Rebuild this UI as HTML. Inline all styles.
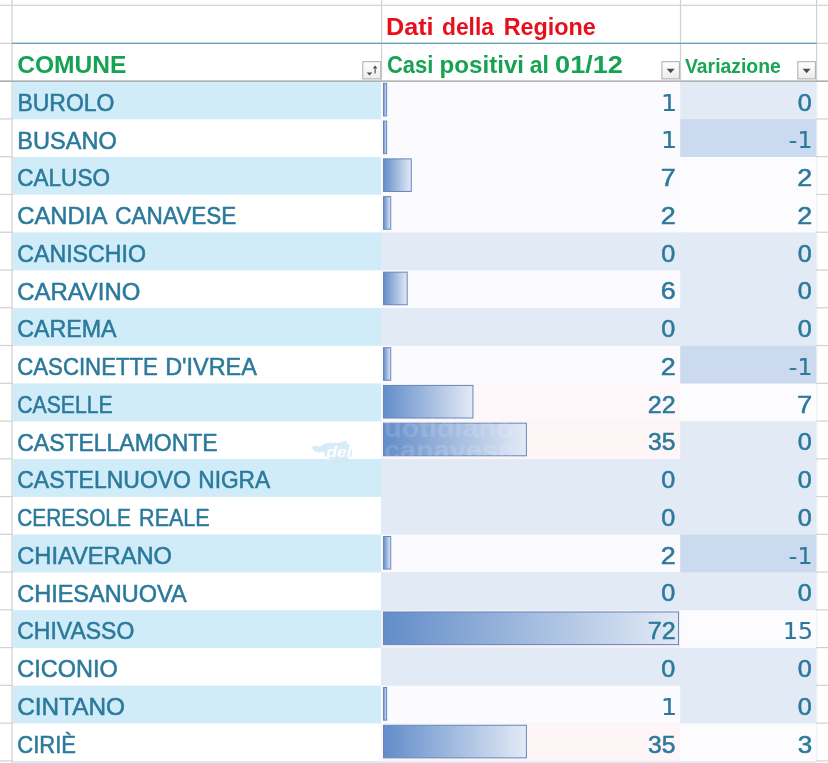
<!DOCTYPE html>
<html lang="it"><head><meta charset="utf-8"><title>Dati della Regione</title>
<style>html,body{margin:0;padding:0;background:#fff;}body{width:828px;height:763px;overflow:hidden;}svg{display:block;}</style>
</head><body>
<svg width="828" height="763" viewBox="0 0 828 763" font-family="'Liberation Sans', sans-serif">
<defs>
<linearGradient id="bar" x1="0" y1="0" x2="1" y2="0"><stop offset="0" stop-color="#628dc9"/><stop offset="1" stop-color="#e3eaf6"/></linearGradient>
<linearGradient id="btn" x1="0" y1="0" x2="0" y2="1"><stop offset="0" stop-color="#ffffff"/><stop offset="1" stop-color="#ececec"/></linearGradient>
</defs>
<rect width="828" height="763" fill="#ffffff"/>
<rect x="11.40" y="0" width="1.2" height="763" fill="#d1d1d1"/>
<rect x="381.00" y="0" width="1.2" height="763" fill="#d1d1d1"/>
<rect x="679.90" y="0" width="1.2" height="763" fill="#d1d1d1"/>
<rect x="816.00" y="0" width="1.2" height="81" fill="#d1d1d1"/>
<rect x="816.2" y="81" width="1.2" height="682" fill="#ededed"/>
<rect x="0" y="4.7" width="828" height="1.2" fill="#d1d1d1"/>
<rect x="0" y="42.7" width="828" height="1.2" fill="#d1d1d1"/>
<rect x="0" y="80.60" width="828" height="1.2" fill="#d1d1d1"/>
<rect x="0" y="118.36" width="828" height="1.2" fill="#d1d1d1"/>
<rect x="0" y="156.12" width="828" height="1.2" fill="#d1d1d1"/>
<rect x="0" y="193.88" width="828" height="1.2" fill="#d1d1d1"/>
<rect x="0" y="231.64" width="828" height="1.2" fill="#d1d1d1"/>
<rect x="0" y="269.40" width="828" height="1.2" fill="#d1d1d1"/>
<rect x="0" y="307.16" width="828" height="1.2" fill="#d1d1d1"/>
<rect x="0" y="344.92" width="828" height="1.2" fill="#d1d1d1"/>
<rect x="0" y="382.68" width="828" height="1.2" fill="#d1d1d1"/>
<rect x="0" y="420.44" width="828" height="1.2" fill="#d1d1d1"/>
<rect x="0" y="458.20" width="828" height="1.2" fill="#d1d1d1"/>
<rect x="0" y="495.96" width="828" height="1.2" fill="#d1d1d1"/>
<rect x="0" y="533.72" width="828" height="1.2" fill="#d1d1d1"/>
<rect x="0" y="571.48" width="828" height="1.2" fill="#d1d1d1"/>
<rect x="0" y="609.24" width="828" height="1.2" fill="#d1d1d1"/>
<rect x="0" y="647.00" width="828" height="1.2" fill="#d1d1d1"/>
<rect x="0" y="684.76" width="828" height="1.2" fill="#d1d1d1"/>
<rect x="0" y="722.52" width="828" height="1.2" fill="#d1d1d1"/>
<rect x="0" y="760.28" width="828" height="1.2" fill="#d1d1d1"/>
<rect x="12" y="42.7" width="804.6" height="1.3" fill="#62a8bd"/>
<rect x="0" y="80.50" width="828" height="1.4" fill="#a9a9a9"/>
<rect x="13" y="81.90" width="368.00" height="37.66" fill="#d0ecf9"/>
<rect x="381" y="81.90" width="300.00" height="37.66" fill="#fbfbff"/>
<rect x="680.2" y="81.90" width="136.00" height="37.66" fill="#e2eaf6"/>
<rect x="13" y="119.26" width="368.00" height="38.06" fill="#ffffff"/>
<rect x="381" y="119.26" width="300.00" height="38.06" fill="#fbfbff"/>
<rect x="680.2" y="119.26" width="136.00" height="38.06" fill="#cbdaee"/>
<rect x="13" y="157.02" width="368.00" height="38.06" fill="#d0ecf9"/>
<rect x="381" y="157.02" width="300.00" height="38.06" fill="#fbfbff"/>
<rect x="680.2" y="157.02" width="136.00" height="38.06" fill="#fcfcff"/>
<rect x="13" y="194.78" width="368.00" height="38.06" fill="#ffffff"/>
<rect x="381" y="194.78" width="300.00" height="38.06" fill="#fbfbff"/>
<rect x="680.2" y="194.78" width="136.00" height="38.06" fill="#fcfcff"/>
<rect x="13" y="232.54" width="368.00" height="38.06" fill="#d0ecf9"/>
<rect x="381" y="232.54" width="300.00" height="38.06" fill="#e2eaf6"/>
<rect x="680.2" y="232.54" width="136.00" height="38.06" fill="#e2eaf6"/>
<rect x="13" y="270.30" width="368.00" height="38.06" fill="#ffffff"/>
<rect x="381" y="270.30" width="300.00" height="38.06" fill="#fbfbff"/>
<rect x="680.2" y="270.30" width="136.00" height="38.06" fill="#e2eaf6"/>
<rect x="13" y="308.06" width="368.00" height="38.06" fill="#d0ecf9"/>
<rect x="381" y="308.06" width="300.00" height="38.06" fill="#e2eaf6"/>
<rect x="680.2" y="308.06" width="136.00" height="38.06" fill="#e2eaf6"/>
<rect x="13" y="345.82" width="368.00" height="38.06" fill="#ffffff"/>
<rect x="381" y="345.82" width="300.00" height="38.06" fill="#fbfbff"/>
<rect x="680.2" y="345.82" width="136.00" height="38.06" fill="#cbdaee"/>
<rect x="13" y="383.58" width="368.00" height="38.06" fill="#d0ecf9"/>
<rect x="381" y="383.58" width="300.00" height="38.06" fill="#fdf7f9"/>
<rect x="680.2" y="383.58" width="136.00" height="38.06" fill="#fcfcff"/>
<rect x="13" y="421.34" width="368.00" height="38.06" fill="#ffffff"/>
<rect x="381" y="421.34" width="300.00" height="38.06" fill="#fdf5f6"/>
<rect x="680.2" y="421.34" width="136.00" height="38.06" fill="#e2eaf6"/>
<rect x="13" y="459.10" width="368.00" height="38.06" fill="#d0ecf9"/>
<rect x="381" y="459.10" width="300.00" height="38.06" fill="#e2eaf6"/>
<rect x="680.2" y="459.10" width="136.00" height="38.06" fill="#e2eaf6"/>
<rect x="13" y="496.86" width="368.00" height="38.06" fill="#ffffff"/>
<rect x="381" y="496.86" width="300.00" height="38.06" fill="#e2eaf6"/>
<rect x="680.2" y="496.86" width="136.00" height="38.06" fill="#e2eaf6"/>
<rect x="13" y="534.62" width="368.00" height="38.06" fill="#d0ecf9"/>
<rect x="381" y="534.62" width="300.00" height="38.06" fill="#fbfbff"/>
<rect x="680.2" y="534.62" width="136.00" height="38.06" fill="#cbdaee"/>
<rect x="13" y="572.38" width="368.00" height="38.06" fill="#ffffff"/>
<rect x="381" y="572.38" width="300.00" height="38.06" fill="#e2eaf6"/>
<rect x="680.2" y="572.38" width="136.00" height="38.06" fill="#e2eaf6"/>
<rect x="13" y="610.14" width="368.00" height="38.06" fill="#d0ecf9"/>
<rect x="381" y="610.14" width="300.00" height="38.06" fill="#f6eff4"/>
<rect x="680.2" y="610.14" width="136.00" height="38.06" fill="#fcfcff"/>
<rect x="13" y="647.90" width="368.00" height="38.06" fill="#ffffff"/>
<rect x="381" y="647.90" width="300.00" height="38.06" fill="#e2eaf6"/>
<rect x="680.2" y="647.90" width="136.00" height="38.06" fill="#e2eaf6"/>
<rect x="13" y="685.66" width="368.00" height="38.06" fill="#d0ecf9"/>
<rect x="381" y="685.66" width="300.00" height="38.06" fill="#fbfbff"/>
<rect x="680.2" y="685.66" width="136.00" height="38.06" fill="#e2eaf6"/>
<rect x="13" y="723.42" width="368.00" height="38.06" fill="#ffffff"/>
<rect x="381" y="723.42" width="300.00" height="38.06" fill="#fdf5f6"/>
<rect x="680.2" y="723.42" width="136.00" height="38.06" fill="#fcfcff"/>
<rect x="13" y="761.18" width="368.00" height="38.06" fill="#d0ecf9"/>
<rect x="381" y="761.18" width="300.00" height="38.06" fill="#e2eaf6"/>
<rect x="680.2" y="761.18" width="136.00" height="38.06" fill="#e2eaf6"/>
<rect x="383.50" y="83.35" width="3.11" height="32.60" fill="url(#bar)" stroke="#6586bf" stroke-width="1"/>
<rect x="383.50" y="121.11" width="3.11" height="32.60" fill="url(#bar)" stroke="#6586bf" stroke-width="1"/>
<rect x="383.50" y="158.87" width="27.78" height="32.60" fill="url(#bar)" stroke="#6586bf" stroke-width="1"/>
<rect x="383.50" y="196.63" width="7.22" height="32.60" fill="url(#bar)" stroke="#6586bf" stroke-width="1"/>
<rect x="383.50" y="272.15" width="23.67" height="32.60" fill="url(#bar)" stroke="#6586bf" stroke-width="1"/>
<rect x="383.50" y="347.67" width="7.22" height="32.60" fill="url(#bar)" stroke="#6586bf" stroke-width="1"/>
<rect x="383.50" y="385.43" width="89.44" height="32.60" fill="url(#bar)" stroke="#6586bf" stroke-width="1"/>
<rect x="383.50" y="423.19" width="142.89" height="32.60" fill="url(#bar)" stroke="#6586bf" stroke-width="1"/>
<rect x="383.50" y="536.47" width="7.22" height="32.60" fill="url(#bar)" stroke="#6586bf" stroke-width="1"/>
<rect x="383.50" y="611.99" width="295.00" height="32.60" fill="url(#bar)" stroke="#6586bf" stroke-width="1"/>
<rect x="383.50" y="687.51" width="3.11" height="32.60" fill="url(#bar)" stroke="#6586bf" stroke-width="1"/>
<rect x="383.50" y="725.27" width="142.89" height="32.60" fill="url(#bar)" stroke="#6586bf" stroke-width="1"/>
<g opacity="0.9"><path d="M311.5 447 L316 445.5 L320 446.5 L325 443.5 L331 442.5 L338 443 L343 441.5 L346 440.5 L347.5 443.5 L351 446 L352 451 L351.5 456.5 L348 457.5 L349 461 L346 464 L340 465 L333 464.5 L330 461 L329 457 L325 456 L324 452 L319 452.5 L314 451 Z" fill="#d3eaf6"/><text x="326.5" y="456.8" font-size="14" font-weight="bold" font-style="italic" fill="#ffffff" textLength="25" lengthAdjust="spacingAndGlyphs">del</text></g>
<g fill="#ffffff" opacity="0.13" font-weight="bold"><text x="384" y="437" font-size="25" textLength="130" lengthAdjust="spacingAndGlyphs">uotidiano</text><text x="384" y="458.5" font-size="25" textLength="130" lengthAdjust="spacingAndGlyphs">canavese</text></g>
<g><rect x="362.80" y="61.7" width="18.0" height="17.2" fill="url(#btn)" stroke="#ababab" stroke-width="1"/><path d="M366.7 72.4 L372.3 72.4 L369.5 75.5 Z" fill="#4d4d4d"/><path d="M375.1 73.4 L375.1 66.6 M373.5 68.4 L375.1 66.4 L376.7 68.4" stroke="#4d4d4d" stroke-width="1.1" fill="none"/></g>
<g><rect x="661.90" y="61.7" width="17.5" height="17.2" fill="url(#btn)" stroke="#ababab" stroke-width="1"/><path d="M666.65 68.7 L674.65 68.7 L670.65 73.3 Z" fill="#4d4d4d"/></g>
<g><rect x="797.80" y="61.7" width="17.6" height="17.2" fill="url(#btn)" stroke="#ababab" stroke-width="1"/><path d="M802.60 68.7 L810.60 68.7 L806.60 73.3 Z" fill="#4d4d4d"/></g>
<text x="17.40" y="110.80" font-size="24.3" font-weight="normal" fill="#2b7a9c" stroke="#2b7a9c" stroke-width="0.55" textLength="97.10" lengthAdjust="spacingAndGlyphs">BUROLO</text>
<text x="17.36" y="148.56" font-size="24.3" font-weight="normal" fill="#2b7a9c" stroke="#2b7a9c" stroke-width="0.55" textLength="99.36" lengthAdjust="spacingAndGlyphs">BUSANO</text>
<text x="17.24" y="186.32" font-size="24.3" font-weight="normal" fill="#2b7a9c" stroke="#2b7a9c" stroke-width="0.55" textLength="92.74" lengthAdjust="spacingAndGlyphs">CALUSO</text>
<g font-size="24.3" font-weight="normal" fill="#2b7a9c" stroke="#2b7a9c" stroke-width="0.55"><text x="17.18" y="224.08" textLength="90.20" lengthAdjust="spacingAndGlyphs">CANDIA</text><text x="115.34" y="224.08" textLength="121.00" lengthAdjust="spacingAndGlyphs">CANAVESE</text></g>
<text x="17.21" y="261.84" font-size="24.3" font-weight="normal" fill="#2b7a9c" stroke="#2b7a9c" stroke-width="0.55" textLength="128.79" lengthAdjust="spacingAndGlyphs">CANISCHIO</text>
<text x="17.18" y="299.60" font-size="24.3" font-weight="normal" fill="#2b7a9c" stroke="#2b7a9c" stroke-width="0.55" textLength="123.16" lengthAdjust="spacingAndGlyphs">CARAVINO</text>
<text x="17.21" y="337.36" font-size="24.3" font-weight="normal" fill="#2b7a9c" stroke="#2b7a9c" stroke-width="0.55" textLength="99.38" lengthAdjust="spacingAndGlyphs">CAREMA</text>
<g font-size="24.3" font-weight="normal" fill="#2b7a9c" stroke="#2b7a9c" stroke-width="0.55"><text x="17.26" y="375.12" textLength="140.67" lengthAdjust="spacingAndGlyphs">CASCINETTE</text><text x="165.17" y="375.12" textLength="91.72" lengthAdjust="spacingAndGlyphs">D'IVREA</text></g>
<text x="17.31" y="412.88" font-size="24.3" font-weight="normal" fill="#2b7a9c" stroke="#2b7a9c" stroke-width="0.55" textLength="95.28" lengthAdjust="spacingAndGlyphs">CASELLE</text>
<text x="17.22" y="450.64" font-size="24.3" font-weight="normal" fill="#2b7a9c" stroke="#2b7a9c" stroke-width="0.55" textLength="200.44" lengthAdjust="spacingAndGlyphs">CASTELLAMONTE</text>
<g font-size="24.3" font-weight="normal" fill="#2b7a9c" stroke="#2b7a9c" stroke-width="0.55"><text x="17.22" y="488.40" textLength="173.78" lengthAdjust="spacingAndGlyphs">CASTELNUOVO</text><text x="198.22" y="488.40" textLength="71.96" lengthAdjust="spacingAndGlyphs">NIGRA</text></g>
<g font-size="24.3" font-weight="normal" fill="#2b7a9c" stroke="#2b7a9c" stroke-width="0.55"><text x="17.32" y="526.16" textLength="113.55" lengthAdjust="spacingAndGlyphs">CERESOLE</text><text x="139.12" y="526.16" textLength="70.59" lengthAdjust="spacingAndGlyphs">REALE</text></g>
<text x="17.19" y="563.92" font-size="24.3" font-weight="normal" fill="#2b7a9c" stroke="#2b7a9c" stroke-width="0.55" textLength="154.84" lengthAdjust="spacingAndGlyphs">CHIAVERANO</text>
<text x="17.20" y="601.68" font-size="24.3" font-weight="normal" fill="#2b7a9c" stroke="#2b7a9c" stroke-width="0.55" textLength="169.39" lengthAdjust="spacingAndGlyphs">CHIESANUOVA</text>
<text x="17.22" y="639.44" font-size="24.3" font-weight="normal" fill="#2b7a9c" stroke="#2b7a9c" stroke-width="0.55" textLength="117.08" lengthAdjust="spacingAndGlyphs">CHIVASSO</text>
<text x="17.20" y="677.20" font-size="24.3" font-weight="normal" fill="#2b7a9c" stroke="#2b7a9c" stroke-width="0.55" textLength="100.52" lengthAdjust="spacingAndGlyphs">CICONIO</text>
<text x="17.16" y="714.96" font-size="24.3" font-weight="normal" fill="#2b7a9c" stroke="#2b7a9c" stroke-width="0.55" textLength="107.90" lengthAdjust="spacingAndGlyphs">CINTANO</text>
<text x="17.27" y="752.72" font-size="24.3" font-weight="normal" fill="#2b7a9c" stroke="#2b7a9c" stroke-width="0.55" textLength="58.65" lengthAdjust="spacingAndGlyphs">CIRIÈ</text>
<text x="660.93" y="110.60" font-size="22.7" font-weight="normal" fill="#2b7a9c" stroke="#2b7a9c" stroke-width="0.15" font-family="'DejaVu Sans', 'Liberation Sans', sans-serif" textLength="16.14" lengthAdjust="spacingAndGlyphs">1</text>
<text x="797.81" y="110.60" font-size="23.6" font-weight="normal" fill="#2b7a9c" stroke="#2b7a9c" stroke-width="0.55" textLength="14.02" lengthAdjust="spacingAndGlyphs">0</text>
<text x="660.93" y="148.36" font-size="22.7" font-weight="normal" fill="#2b7a9c" stroke="#2b7a9c" stroke-width="0.15" font-family="'DejaVu Sans', 'Liberation Sans', sans-serif" textLength="16.14" lengthAdjust="spacingAndGlyphs">1</text>
<text x="788.89" y="148.36" font-size="22.7" font-weight="normal" fill="#2b7a9c" stroke="#2b7a9c" stroke-width="0.15" font-family="'DejaVu Sans', 'Liberation Sans', sans-serif" textLength="23.51" lengthAdjust="spacingAndGlyphs">-1</text>
<text x="660.74" y="186.12" font-size="23.6" font-weight="normal" fill="#2b7a9c" stroke="#2b7a9c" stroke-width="0.55" textLength="14.95" lengthAdjust="spacingAndGlyphs">7</text>
<text x="797.34" y="186.12" font-size="23.6" font-weight="normal" fill="#2b7a9c" stroke="#2b7a9c" stroke-width="0.55" textLength="14.95" lengthAdjust="spacingAndGlyphs">2</text>
<text x="660.74" y="223.88" font-size="23.6" font-weight="normal" fill="#2b7a9c" stroke="#2b7a9c" stroke-width="0.55" textLength="14.95" lengthAdjust="spacingAndGlyphs">2</text>
<text x="797.34" y="223.88" font-size="23.6" font-weight="normal" fill="#2b7a9c" stroke="#2b7a9c" stroke-width="0.55" textLength="14.95" lengthAdjust="spacingAndGlyphs">2</text>
<text x="661.21" y="261.64" font-size="23.6" font-weight="normal" fill="#2b7a9c" stroke="#2b7a9c" stroke-width="0.55" textLength="14.02" lengthAdjust="spacingAndGlyphs">0</text>
<text x="797.81" y="261.64" font-size="23.6" font-weight="normal" fill="#2b7a9c" stroke="#2b7a9c" stroke-width="0.55" textLength="14.02" lengthAdjust="spacingAndGlyphs">0</text>
<text x="660.74" y="299.40" font-size="23.6" font-weight="normal" fill="#2b7a9c" stroke="#2b7a9c" stroke-width="0.55" textLength="14.95" lengthAdjust="spacingAndGlyphs">6</text>
<text x="797.81" y="299.40" font-size="23.6" font-weight="normal" fill="#2b7a9c" stroke="#2b7a9c" stroke-width="0.55" textLength="14.02" lengthAdjust="spacingAndGlyphs">0</text>
<text x="661.21" y="337.16" font-size="23.6" font-weight="normal" fill="#2b7a9c" stroke="#2b7a9c" stroke-width="0.55" textLength="14.02" lengthAdjust="spacingAndGlyphs">0</text>
<text x="797.81" y="337.16" font-size="23.6" font-weight="normal" fill="#2b7a9c" stroke="#2b7a9c" stroke-width="0.55" textLength="14.02" lengthAdjust="spacingAndGlyphs">0</text>
<text x="660.74" y="374.92" font-size="23.6" font-weight="normal" fill="#2b7a9c" stroke="#2b7a9c" stroke-width="0.55" textLength="14.95" lengthAdjust="spacingAndGlyphs">2</text>
<text x="788.89" y="374.92" font-size="22.7" font-weight="normal" fill="#2b7a9c" stroke="#2b7a9c" stroke-width="0.15" font-family="'DejaVu Sans', 'Liberation Sans', sans-serif" textLength="23.51" lengthAdjust="spacingAndGlyphs">-1</text>
<text x="647.72" y="412.68" font-size="23.6" font-weight="normal" fill="#2b7a9c" stroke="#2b7a9c" stroke-width="0.55" textLength="27.89" lengthAdjust="spacingAndGlyphs">22</text>
<text x="797.34" y="412.68" font-size="23.6" font-weight="normal" fill="#2b7a9c" stroke="#2b7a9c" stroke-width="0.55" textLength="14.95" lengthAdjust="spacingAndGlyphs">7</text>
<text x="648.13" y="450.44" font-size="23.6" font-weight="normal" fill="#2b7a9c" stroke="#2b7a9c" stroke-width="0.55" textLength="27.47" lengthAdjust="spacingAndGlyphs">35</text>
<text x="797.81" y="450.44" font-size="23.6" font-weight="normal" fill="#2b7a9c" stroke="#2b7a9c" stroke-width="0.55" textLength="14.02" lengthAdjust="spacingAndGlyphs">0</text>
<text x="661.21" y="488.20" font-size="23.6" font-weight="normal" fill="#2b7a9c" stroke="#2b7a9c" stroke-width="0.55" textLength="14.02" lengthAdjust="spacingAndGlyphs">0</text>
<text x="797.81" y="488.20" font-size="23.6" font-weight="normal" fill="#2b7a9c" stroke="#2b7a9c" stroke-width="0.55" textLength="14.02" lengthAdjust="spacingAndGlyphs">0</text>
<text x="661.21" y="525.96" font-size="23.6" font-weight="normal" fill="#2b7a9c" stroke="#2b7a9c" stroke-width="0.55" textLength="14.02" lengthAdjust="spacingAndGlyphs">0</text>
<text x="797.81" y="525.96" font-size="23.6" font-weight="normal" fill="#2b7a9c" stroke="#2b7a9c" stroke-width="0.55" textLength="14.02" lengthAdjust="spacingAndGlyphs">0</text>
<text x="660.74" y="563.72" font-size="23.6" font-weight="normal" fill="#2b7a9c" stroke="#2b7a9c" stroke-width="0.55" textLength="14.95" lengthAdjust="spacingAndGlyphs">2</text>
<text x="788.89" y="563.72" font-size="22.7" font-weight="normal" fill="#2b7a9c" stroke="#2b7a9c" stroke-width="0.15" font-family="'DejaVu Sans', 'Liberation Sans', sans-serif" textLength="23.51" lengthAdjust="spacingAndGlyphs">-1</text>
<text x="661.21" y="601.48" font-size="23.6" font-weight="normal" fill="#2b7a9c" stroke="#2b7a9c" stroke-width="0.55" textLength="14.02" lengthAdjust="spacingAndGlyphs">0</text>
<text x="797.81" y="601.48" font-size="23.6" font-weight="normal" fill="#2b7a9c" stroke="#2b7a9c" stroke-width="0.55" textLength="14.02" lengthAdjust="spacingAndGlyphs">0</text>
<text x="647.72" y="639.24" font-size="23.6" font-weight="normal" fill="#2b7a9c" stroke="#2b7a9c" stroke-width="0.55" textLength="27.89" lengthAdjust="spacingAndGlyphs">72</text>
<text x="782.92" y="639.24" font-size="22.7" font-weight="normal" fill="#2b7a9c" stroke="#2b7a9c" stroke-width="0.15" font-family="'DejaVu Sans', 'Liberation Sans', sans-serif" textLength="30.02" lengthAdjust="spacingAndGlyphs">15</text>
<text x="661.21" y="677.00" font-size="23.6" font-weight="normal" fill="#2b7a9c" stroke="#2b7a9c" stroke-width="0.55" textLength="14.02" lengthAdjust="spacingAndGlyphs">0</text>
<text x="797.81" y="677.00" font-size="23.6" font-weight="normal" fill="#2b7a9c" stroke="#2b7a9c" stroke-width="0.55" textLength="14.02" lengthAdjust="spacingAndGlyphs">0</text>
<text x="660.93" y="714.76" font-size="22.7" font-weight="normal" fill="#2b7a9c" stroke="#2b7a9c" stroke-width="0.15" font-family="'DejaVu Sans', 'Liberation Sans', sans-serif" textLength="16.14" lengthAdjust="spacingAndGlyphs">1</text>
<text x="797.81" y="714.76" font-size="23.6" font-weight="normal" fill="#2b7a9c" stroke="#2b7a9c" stroke-width="0.55" textLength="14.02" lengthAdjust="spacingAndGlyphs">0</text>
<text x="648.13" y="752.52" font-size="23.6" font-weight="normal" fill="#2b7a9c" stroke="#2b7a9c" stroke-width="0.55" textLength="27.47" lengthAdjust="spacingAndGlyphs">35</text>
<text x="797.79" y="752.52" font-size="23.6" font-weight="normal" fill="#2b7a9c" stroke="#2b7a9c" stroke-width="0.55" textLength="14.47" lengthAdjust="spacingAndGlyphs">3</text>
<text x="17.23" y="72.70" font-size="24.4" font-weight="bold" fill="#16a253" textLength="109.22" lengthAdjust="spacingAndGlyphs">COMUNE</text>
<g font-size="24.4" font-weight="bold" fill="#e80f1b"><text x="386.03" y="34.80" textLength="47.56" lengthAdjust="spacingAndGlyphs">Dati</text><text x="441.99" y="34.80" textLength="51.97" lengthAdjust="spacingAndGlyphs">della</text><text x="503.64" y="34.80" textLength="92.24" lengthAdjust="spacingAndGlyphs">Regione</text></g>
<g font-size="24.4" font-weight="bold" fill="#16a253"><text x="387.01" y="72.60" textLength="46.38" lengthAdjust="spacingAndGlyphs">Casi</text><text x="439.59" y="72.60" textLength="84.43" lengthAdjust="spacingAndGlyphs">positivi</text><text x="529.84" y="72.60" textLength="19.11" lengthAdjust="spacingAndGlyphs">al</text><text x="555.05" y="72.60" textLength="67.92" lengthAdjust="spacingAndGlyphs">01/12</text></g>
<text x="685.00" y="72.70" font-size="20.2" font-weight="bold" fill="#18a556" textLength="95.78" lengthAdjust="spacingAndGlyphs">Variazione</text>
</svg>
</body></html>
